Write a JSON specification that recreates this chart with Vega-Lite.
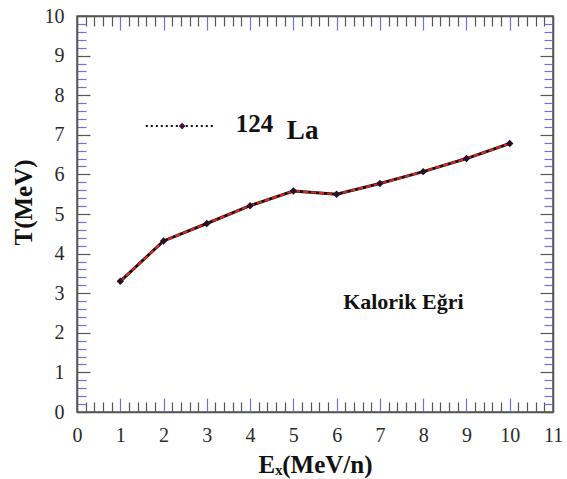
{
  "$schema": "https://vega.github.io/schema/vega-lite/v6.json",
  "width": 476,
  "height": 396,
  "autosize": {"type": "none"},
  "padding": {"left": 77, "top": 16, "right": 14, "bottom": 67},
  "background": "white",
  "config": {
    "font": "Liberation Serif",
    "text": {"font": "Liberation Serif"},
    "view": {"stroke": "#555555", "strokeWidth": 1.5},
    "axis": {"domainColor": "#555555", "domainWidth": 1.5, "grid": false, "labelFont": "Liberation Serif", "labelFontSize": 20, "labelColor": "#2a2a2a", "titleFont": "Liberation Serif", "titleFontWeight": "bold", "titleColor": "#111111", "labelOverlap": false, "labelFlush": false, "tickWidth": 1.2}
  },
  "datasets": {
    "curve": [
      {"Ex": 1, "T": 3.3},
      {"Ex": 2, "T": 4.32},
      {"Ex": 3, "T": 4.76},
      {"Ex": 4, "T": 5.21},
      {"Ex": 5, "T": 5.58},
      {"Ex": 6, "T": 5.5},
      {"Ex": 7, "T": 5.77},
      {"Ex": 8, "T": 6.07},
      {"Ex": 9, "T": 6.4},
      {"Ex": 10, "T": 6.78}
    ],
    "legendline": [
      {"Ex": 1.59, "T": 7.22},
      {"Ex": 3.19, "T": 7.22}
    ],
    "legendpoint": [
      {"Ex": 2.43, "T": 7.22}
    ],
    "labels": [
      {"Ex": 3.67, "T": 7.07, "text": "124", "size": 25},
      {"Ex": 4.85, "T": 6.89, "text": "La", "size": 27},
      {"Ex": 6.15, "T": 2.6, "text": "Kalorik Eğri", "size": 22}
    ]
  },
  "resolve": {"axis": {"x": "independent", "y": "independent"}},
  "layer": [
    {
      "data": {"name": "curve"},
      "mark": {"type": "line", "color": "#111111", "strokeWidth": 3},
      "encoding": {
        "x": {"field": "Ex", "type": "quantitative", "scale": {"domain": [0, 11], "nice": false, "zero": false},
          "axis": {"orient": "bottom", "title": "Eₓ(MeV/n)", "titleFontSize": 25, "titlePadding": 3,
            "values": [0,0.2,0.4,0.6,0.8,1,1.2,1.4,1.6,1.8,2,2.2,2.4,2.6,2.8,3,3.2,3.4,3.6,3.8,4,4.2,4.4,4.6,4.8,5,5.2,5.4,5.6,5.8,6,6.2,6.4,6.6,6.8,7,7.2,7.4,7.6,7.8,8,8.2,8.4,8.6,8.8,9,9.2,9.4,9.6,9.8,10,10.2,10.4,10.6,10.8,11],
            "labelExpr": "abs(datum.value - round(datum.value)) < 0.01 ? '' + round(datum.value) : ''",
            "labelPadding": 27,
            "tickSize": {"condition": {"test": "abs(datum.value - round(datum.value)) < 0.01", "value": -14}, "value": -10},
            "tickColor": {"condition": {"test": "abs(datum.value - round(datum.value)) < 0.01", "value": "#6f6fe8"}, "value": "#555555"}}},
        "y": {"field": "T", "type": "quantitative", "scale": {"domain": [0, 10], "nice": false, "zero": false},
          "axis": {"orient": "left", "title": "T(MeV)", "titleFontSize": 25, "titlePadding": 8, "titleY": 186,
            "values": [0,0.2,0.4,0.6,0.8,1,1.2,1.4,1.6,1.8,2,2.2,2.4,2.6,2.8,3,3.2,3.4,3.6,3.8,4,4.2,4.4,4.6,4.8,5,5.2,5.4,5.6,5.8,6,6.2,6.4,6.6,6.8,7,7.2,7.4,7.6,7.8,8,8.2,8.4,8.6,8.8,9,9.2,9.4,9.6,9.8,10],
            "labelExpr": "abs(datum.value - round(datum.value)) < 0.01 ? '' + round(datum.value) : ''",
            "labelPadding": 26,
            "tickSize": {"condition": {"test": "abs(datum.value - round(datum.value)) < 0.01", "value": -13}, "value": -9},
            "tickColor": {"condition": {"test": "abs(datum.value - round(datum.value)) < 0.01", "value": "#555555"}, "value": "#6f6fe8"}}}
      }
    },
    {
      "data": {"name": "curve"},
      "mark": {"type": "line", "color": "#e3241e", "strokeWidth": 2.2, "strokeDash": [5, 3]},
      "encoding": {
        "x": {"field": "Ex", "type": "quantitative",
          "axis": {"orient": "top", "title": null, "labels": false,
            "values": [0,0.2,0.4,0.6,0.8,1,1.2,1.4,1.6,1.8,2,2.2,2.4,2.6,2.8,3,3.2,3.4,3.6,3.8,4,4.2,4.4,4.6,4.8,5,5.2,5.4,5.6,5.8,6,6.2,6.4,6.6,6.8,7,7.2,7.4,7.6,7.8,8,8.2,8.4,8.6,8.8,9,9.2,9.4,9.6,9.8,10,10.2,10.4,10.6,10.8,11],
            "tickSize": {"condition": {"test": "abs(datum.value - round(datum.value)) < 0.01", "value": -14}, "value": -10},
            "tickColor": {"condition": {"test": "abs(datum.value - round(datum.value)) < 0.01", "value": "#6f6fe8"}, "value": "#555555"}}},
        "y": {"field": "T", "type": "quantitative",
          "axis": {"orient": "right", "title": null, "labels": false,
            "values": [0,0.2,0.4,0.6,0.8,1,1.2,1.4,1.6,1.8,2,2.2,2.4,2.6,2.8,3,3.2,3.4,3.6,3.8,4,4.2,4.4,4.6,4.8,5,5.2,5.4,5.6,5.8,6,6.2,6.4,6.6,6.8,7,7.2,7.4,7.6,7.8,8,8.2,8.4,8.6,8.8,9,9.2,9.4,9.6,9.8,10],
            "tickSize": {"condition": {"test": "abs(datum.value - round(datum.value)) < 0.01", "value": -13}, "value": -9},
            "tickColor": {"condition": {"test": "abs(datum.value - round(datum.value)) < 0.01", "value": "#555555"}, "value": "#6f6fe8"}}}
      }
    },
    {
      "data": {"name": "curve"},
      "mark": {"type": "point", "shape": "diamond", "filled": true, "color": "#2a0d26", "size": 55, "opacity": 1},
      "encoding": {
        "x": {"field": "Ex", "type": "quantitative", "axis": null},
        "y": {"field": "T", "type": "quantitative", "axis": null}
      }
    },
    {
      "data": {"name": "legendline"},
      "mark": {"type": "line", "color": "#111111", "strokeWidth": 2, "strokeDash": [2, 3]},
      "encoding": {
        "x": {"field": "Ex", "type": "quantitative", "axis": null},
        "y": {"field": "T", "type": "quantitative", "axis": null}
      }
    },
    {
      "data": {"name": "legendpoint"},
      "mark": {"type": "point", "shape": "diamond", "filled": true, "color": "#4a0f44", "size": 45, "opacity": 1},
      "encoding": {
        "x": {"field": "Ex", "type": "quantitative", "axis": null},
        "y": {"field": "T", "type": "quantitative", "axis": null}
      }
    },
    {
      "data": {"name": "labels"},
      "mark": {"type": "text", "align": "left", "baseline": "alphabetic", "font": "Liberation Serif", "fontWeight": "bold", "color": "#111111"},
      "encoding": {
        "x": {"field": "Ex", "type": "quantitative", "axis": null},
        "y": {"field": "T", "type": "quantitative", "axis": null},
        "text": {"field": "text"},
        "size": {"field": "size", "type": "quantitative", "scale": null, "legend": null}
      }
    }
  ]
}
